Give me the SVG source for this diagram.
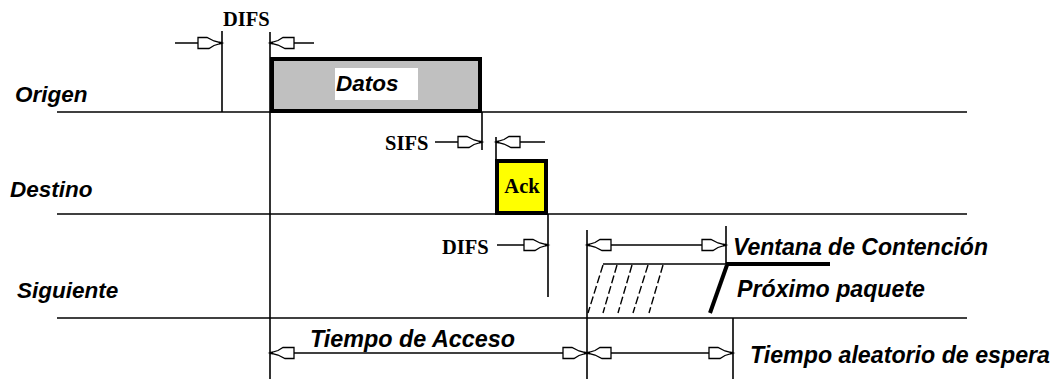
<svg xmlns="http://www.w3.org/2000/svg" width="1057" height="379" viewBox="0 0 1057 379">
<style>
.ln{stroke:#000;stroke-width:1.6;fill:none}
.ar{stroke:#000;stroke-width:1.4;fill:none;marker-end:url(#hd)}
.ar2{stroke:#000;stroke-width:1.4;fill:none;marker-end:url(#hd);marker-start:url(#hd)}
.lbl{font-family:"Liberation Sans",Arial,sans-serif;font-weight:bold;font-style:italic;font-size:22.5px;fill:#000}
.big{font-family:"Liberation Sans",Arial,sans-serif;font-weight:bold;font-style:italic;font-size:23px;fill:#000}
.ser{font-family:"Liberation Serif","Times New Roman",serif;font-weight:bold;font-size:20.5px;fill:#000}
.thick{stroke:#000;stroke-width:4;fill:none}
.hatch{stroke:#000;stroke-width:1.4;stroke-dasharray:8 3;fill:none}
</style>
<defs>
<marker id="hd" markerUnits="userSpaceOnUse" markerWidth="28" markerHeight="16" refX="0" refY="0" viewBox="-26 -8 28 16" orient="auto-start-reverse" overflow="visible">
<polygon points="-24,-5.5 -15,-5.5 -8,-2 0,0 -8,2.5 -13,5.5 -24,5.5" fill="#fff" stroke="#000" stroke-width="1.3"/>
<line x1="-3" y1="0" x2="0" y2="0" stroke="#000" stroke-width="2.5"/>
</marker>
</defs>
<rect width="1057" height="379" fill="#fff"/>

<g id="timelines">
<line class="ln" x1="57" y1="112" x2="967" y2="112"/>
<line class="ln" x1="57" y1="214" x2="967" y2="214"/>
<line class="ln" x1="57" y1="318" x2="967" y2="318"/>
</g>

<g id="labels">
<text class="lbl" x="15" y="102">Origen</text>
<text class="lbl" x="10" y="197">Destino</text>
<text class="lbl" x="17" y="298">Siguiente</text>
</g>

<g id="datos">
<rect x="272" y="59" width="208" height="52" fill="#c0c0c0" stroke="#000" stroke-width="4"/>
<rect x="335" y="68" width="83" height="32" fill="#fff"/>
<text class="lbl" x="336" y="91">Datos</text>
</g>

<g id="ack">
<rect x="497" y="161" width="49" height="52" fill="#ffff00" stroke="#000" stroke-width="4"/>
<text class="ser" x="522" y="193" text-anchor="middle">Ack</text>
</g>

<g id="connectors">
<line class="ln" x1="222" y1="31" x2="222" y2="112"/>
<line class="ln" x1="270" y1="32" x2="270" y2="379"/>
<line class="ln" x1="482" y1="112" x2="482" y2="150"/>
<line class="ln" x1="496" y1="137" x2="496" y2="160"/>
<line class="ln" x1="548" y1="214" x2="548" y2="297"/>
<line class="ln" x1="587" y1="230" x2="587" y2="379"/>
<line class="ln" x1="726" y1="226" x2="726" y2="264"/>
<line class="ln" x1="733" y1="318" x2="733" y2="379"/>
<line class="ar" x1="175" y1="43" x2="222" y2="43"/>
<line class="ar" x1="314" y1="43" x2="270" y2="43"/>
<line class="ar" x1="435" y1="142" x2="482" y2="142"/>
<line class="ar" x1="545" y1="142" x2="496" y2="142"/>
<line class="ar" x1="497" y1="245" x2="548" y2="245"/>
<line class="ar2" x1="587" y1="245" x2="726" y2="245"/>
<line class="ar2" x1="270" y1="353" x2="587" y2="353"/>
<line class="ar2" x1="587" y1="353" x2="733" y2="353"/>
<line class="ln" x1="603" y1="264" x2="726" y2="264"/>
<line class="thick" x1="726" y1="264" x2="830" y2="264"/>
<line class="thick" x1="727" y1="265" x2="710" y2="313"/>
<line class="hatch" x1="603" y1="265" x2="588" y2="313"/>
<line class="hatch" x1="617" y1="265" x2="603" y2="313"/>
<line class="hatch" x1="632" y1="265" x2="618" y2="313"/>
<line class="hatch" x1="648" y1="265" x2="633" y2="313"/>
<line class="hatch" x1="663" y1="265" x2="649" y2="313"/>
</g>

<g id="annotations">
<text class="ser" x="223" y="26">DIFS</text>
<text class="ser" x="385" y="150">SIFS</text>
<text class="ser" x="442" y="254">DIFS</text>
<text class="big" x="733" y="255" textLength="255" lengthAdjust="spacingAndGlyphs">Ventana de Contención</text>
<text class="big" x="737" y="297" textLength="188" lengthAdjust="spacingAndGlyphs">Próximo paquete</text>
<text class="big" x="310" y="347" textLength="205" lengthAdjust="spacingAndGlyphs">Tiempo de Acceso</text>
<text class="big" x="750" y="363" textLength="300" lengthAdjust="spacingAndGlyphs">Tiempo aleatorio de espera</text>
</g>
</svg>
